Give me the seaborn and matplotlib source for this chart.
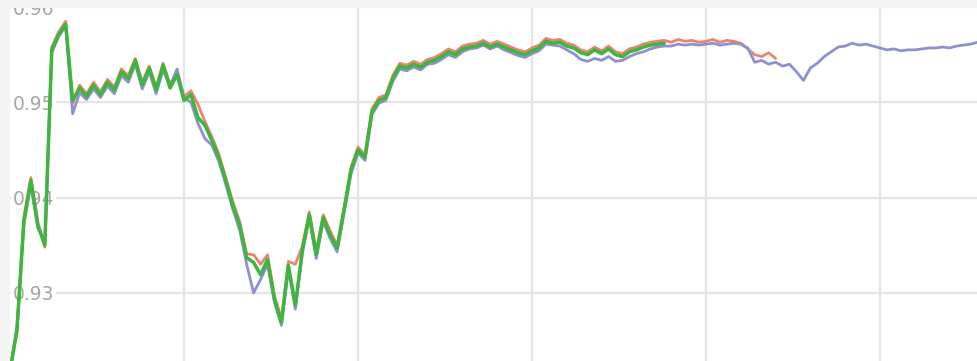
import numpy as np
import pandas as pd
import matplotlib
matplotlib.use("Agg")
import matplotlib.pyplot as plt
from matplotlib.patches import Rectangle
import seaborn as sns

# Logged metric for three runs, one value every 40 steps
STEP = 40

run_a = [  # red
    0.9222, 0.9258, 0.9380, 0.9421, 0.9374, 0.9348, 0.9558, 0.9574, 0.9585, 0.9499,
    0.9518, 0.9509, 0.9521, 0.9511, 0.9524, 0.9516, 0.9535, 0.9528, 0.9546, 0.9521,
    0.9538, 0.9516, 0.9541, 0.9519, 0.9531, 0.9506, 0.9512, 0.9498, 0.9480, 0.9464,
    0.9446, 0.9421, 0.9396, 0.9375, 0.9341, 0.9340, 0.9330, 0.9340, 0.9297, 0.9273,
    0.9333, 0.9330, 0.9349, 0.9385, 0.9344, 0.9382, 0.9365, 0.9350, 0.9390, 0.9432,
    0.9453, 0.9445, 0.9493, 0.9505, 0.9508, 0.9528, 0.9541, 0.9539, 0.9543, 0.9540,
    0.9545, 0.9547, 0.9551, 0.9556, 0.9553, 0.9559, 0.9561, 0.9562, 0.9565, 0.9561,
    0.9564, 0.9561, 0.9558, 0.9555, 0.9553, 0.9557, 0.9560, 0.9567, 0.9565, 0.9566,
    0.9562, 0.9560, 0.9555, 0.9553, 0.9558, 0.9554, 0.9559, 0.9553, 0.9551, 0.9556,
    0.9558, 0.9561, 0.9563, 0.9564, 0.9565, 0.9563, 0.9566, 0.9564, 0.9565, 0.9563,
    0.9564, 0.9566, 0.9563, 0.9565, 0.9564, 0.9562, 0.9556, 0.9550, 0.9548, 0.9552,
    0.9546,
]

run_b = [  # blue
    0.9219, 0.9265, 0.9372, 0.9414, 0.9368, 0.9353, 0.9552, 0.9569, 0.9580, 0.9488,
    0.9510, 0.9503, 0.9514, 0.9505, 0.9517, 0.9509, 0.9528, 0.9521, 0.9540, 0.9514,
    0.9532, 0.9509, 0.9534, 0.9517, 0.9535, 0.9505, 0.9500, 0.9478, 0.9462, 0.9455,
    0.9438, 0.9414, 0.9388, 0.9366, 0.9330, 0.9300, 0.9314, 0.9330, 0.9290, 0.9266,
    0.9325, 0.9283, 0.9341, 0.9378, 0.9336, 0.9375, 0.9357, 0.9343, 0.9384, 0.9425,
    0.9447, 0.9439, 0.9487, 0.9499, 0.9502, 0.9522, 0.9535, 0.9533, 0.9537, 0.9534,
    0.9540, 0.9541, 0.9545, 0.9550, 0.9547, 0.9553, 0.9556, 0.9557, 0.9560, 0.9556,
    0.9559, 0.9555, 0.9552, 0.9549, 0.9547, 0.9551, 0.9554, 0.9561, 0.9560, 0.9559,
    0.9555, 0.9551, 0.9545, 0.9543, 0.9546, 0.9544, 0.9548, 0.9543, 0.9544, 0.9548,
    0.9551, 0.9553, 0.9556, 0.9558, 0.9559, 0.9559, 0.9561, 0.9560, 0.9561, 0.9560,
    0.9561, 0.9562, 0.9560, 0.9561, 0.9562, 0.9561, 0.9557, 0.9542, 0.9544, 0.9540,
    0.9542, 0.9538, 0.9540, 0.9532, 0.9523, 0.9536, 0.9541, 0.9548, 0.9553, 0.9558,
    0.9559, 0.9562, 0.9560, 0.9561, 0.9559, 0.9557, 0.9555, 0.9556, 0.9554, 0.9555,
    0.9555, 0.9556, 0.9557, 0.9557, 0.9558, 0.9557, 0.9559, 0.9560, 0.9561, 0.9563,
]

run_c = [  # green
    0.9217, 0.9261, 0.9376, 0.9418, 0.9371, 0.9350, 0.9555, 0.9571, 0.9582, 0.9502,
    0.9515, 0.9506, 0.9518, 0.9508, 0.9521, 0.9513, 0.9532, 0.9525, 0.9544, 0.9518,
    0.9536, 0.9513, 0.9539, 0.9515, 0.9529, 0.9502, 0.9508, 0.9484, 0.9476, 0.9460,
    0.9442, 0.9418, 0.9392, 0.9371, 0.9337, 0.9332, 0.9319, 0.9335, 0.9293, 0.9269,
    0.9329, 0.9287, 0.9345, 0.9382, 0.9340, 0.9379, 0.9361, 0.9347, 0.9387, 0.9429,
    0.9450, 0.9442, 0.9490, 0.9502, 0.9505, 0.9525, 0.9538, 0.9536, 0.9540, 0.9537,
    0.9542, 0.9544, 0.9548, 0.9553, 0.9550, 0.9556, 0.9558, 0.9559, 0.9562, 0.9558,
    0.9561, 0.9558, 0.9555, 0.9552, 0.9550, 0.9554, 0.9557, 0.9564, 0.9562, 0.9563,
    0.9559, 0.9557, 0.9552, 0.9550, 0.9555, 0.9551, 0.9556, 0.9550, 0.9548, 0.9553,
    0.9555, 0.9558, 0.9560, 0.9561, 0.9562,
]

runs = {"run_a": run_a, "run_b": run_b, "run_c": run_c}
colors = {"run_a": "#ea8470", "run_b": "#8e90cf", "run_c": "#3cb63c"}
widths = {"run_a": 2.0, "run_b": 2.0, "run_c": 2.5}

y_ticks = [0.93, 0.94, 0.95, 0.96]
x_ticks = [1000, 2000, 3000, 4000, 5000]

frames = []
for name, vals in runs.items():
    frames.append(pd.DataFrame({
        "step": np.arange(len(vals)) * STEP,
        "value": vals,
        "run": name,
    }))
df = pd.concat(frames, ignore_index=True)

sns.set_theme(style="whitegrid")

W, H = 977, 361
BG = "#f4f4f4"
fig = plt.figure(figsize=(W / 100, H / 100), dpi=100, facecolor=BG)
# plot area starts a few pixels in from the top-left and runs past the bottom edge
ax = fig.add_axes([10 / W, 1 - 400 / H, 967 / W, 393 / H])
ax.set_facecolor("white")

for name in ["run_a", "run_b", "run_c"]:
    sns.lineplot(data=df[df["run"] == name], x="step", y="value",
                 color=colors[name], linewidth=widths[name], ax=ax,
                 legend=False, estimator=None)

ax.set_xlim(0, 5557.5)
ax.set_ylim(0.91876, 0.96)
ax.set_xticks(x_ticks)
ax.set_xticklabels([])
ax.set_yticks(y_ticks)
ax.set_yticklabels([f"{t:.2f}" for t in y_ticks])
ax.set_xlabel("")
ax.set_ylabel("")
ax.set_axisbelow(True)
ax.grid(True, color="#e4e4e4", linewidth=1.6)
for s in ax.spines.values():
    s.set_visible(False)
ax.tick_params(axis="y", length=0, pad=-2, labelsize=13.5, labelcolor="#a6a6a6")
ax.tick_params(axis="x", length=0)
for lbl in ax.get_yticklabels():
    lbl.set_horizontalalignment("left")
    lbl.set_bbox(dict(facecolor="white", edgecolor="none", pad=1.0))

# header band across the top that overlaps the topmost label
fig.add_artist(Rectangle((0, 1 - 8 / H), 1, 8 / H, transform=fig.transFigure,
                         facecolor=BG, edgecolor="none", zorder=10))

fig.savefig("out.png", dpi=100, facecolor=fig.get_facecolor())
